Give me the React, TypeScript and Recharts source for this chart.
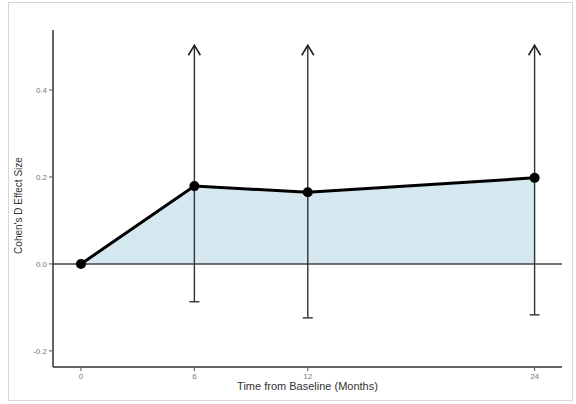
import React from 'react';
import { ComposedChart, Area, XAxis, YAxis, ReferenceLine } from 'recharts';

const months = [0, 6, 12, 24];
const effect = [0, 0.179, 0.165, 0.198];
const lower = [null, -0.087, -0.124, -0.117];
const upper = [null, 0.503, 0.503, 0.503];
const xTicks = [0, 6, 12, 24];
const yTicks = [-0.2, 0, 0.2, 0.4];

const data = months.map((m, i) => ({ month: m, effect: effect[i], lower: lower[i], upper: upper[i] }));

const ErrShape = (props: any) => {
  const { x1, y1, x2, y2 } = props;
  if (x1 == null) return null;
  const top = Math.min(y1, y2);
  const bot = Math.max(y1, y2);
  const x = x1;
  return (
    <g>
      <line x1={x} y1={top} x2={x} y2={bot} stroke="#333" strokeWidth={1.4} />
      <polyline points={`${x - 6},${top + 10} ${x},${top} ${x + 6},${top + 10}`} fill="none" stroke="#222" strokeWidth={1.6} />
      <line x1={x - 5} y1={bot} x2={x + 5} y2={bot} stroke="#333" strokeWidth={1.4} />
    </g>
  );
};

const YLabel = (props: any) => {
  const vb = props.viewBox || {};
  const cy = vb.y + vb.height / 2 + 7;
  return (
    <text x={18} y={cy} transform={`rotate(-90, 18, ${cy})`} textAnchor="middle" dominantBaseline="central" fontSize={10} fill="#333" fontFamily="Liberation Sans, Arial, sans-serif">
      Cohen's D Effect Size
    </text>
  );
};

export default function App() {
  return (
    <div style={{ position: 'absolute', left: 0, top: 0, width: 576, height: 404, background: '#fff' }}>
      <div style={{ position: 'absolute', left: 8, top: 2, width: 563, height: 397, border: '1px solid #d6d6d6' }} />
      <div style={{ position: 'absolute', left: 0, top: 0 }}>
        <ComposedChart width={576} height={404} data={data} margin={{ top: 30, right: 14, bottom: 0, left: 18 }}>
          <XAxis
            dataKey="month"
            type="number"
            domain={[-1.48, 25.45]}
            ticks={xTicks}
            allowDataOverflow
            tickSize={4}
            stroke="#333"
            strokeWidth={1.5}
            height={37}
            tick={{ fontSize: 8, fill: '#777', fontFamily: 'Liberation Sans, Arial, sans-serif' }}
            tickLine={{ stroke: '#555', strokeWidth: 1 }}
            label={{ value: 'Time from Baseline (Months)', position: 'insideBottom', offset: 14, fontSize: 11, fill: '#333', fontFamily: 'Liberation Sans, Arial, sans-serif' }}
          />
          <YAxis
            type="number"
            domain={[-0.237, 0.538]}
            ticks={yTicks}
            allowDataOverflow
            width={35}
            tickSize={4}
            stroke="#333"
            strokeWidth={1.5}
            tickFormatter={(v: number) => v.toFixed(1)}
            tick={{ fontSize: 8, fill: '#777', fontFamily: 'Liberation Sans, Arial, sans-serif' }}
            tickLine={{ stroke: '#555', strokeWidth: 1 }}
            label={<YLabel />}
          />
          <Area
            type="linear"
            dataKey="effect"
            baseValue={0}
            fill="#d5e8f0"
            fillOpacity={1}
            stroke="#000"
            strokeWidth={3}
            dot={{ r: 5, fill: '#000', stroke: '#000', strokeWidth: 0 }}
            isAnimationActive={false}
          />
          <ReferenceLine y={0} stroke="#444" strokeWidth={1.5} />
          {data.filter(d => d.lower != null).map(d => (
            <ReferenceLine
              key={d.month}
              segment={[{ x: d.month, y: d.lower as number }, { x: d.month, y: d.upper as number }]}
              shape={<ErrShape />}
              ifOverflow="visible"
            />
          ))}
        </ComposedChart>
      </div>
    </div>
  );
}
